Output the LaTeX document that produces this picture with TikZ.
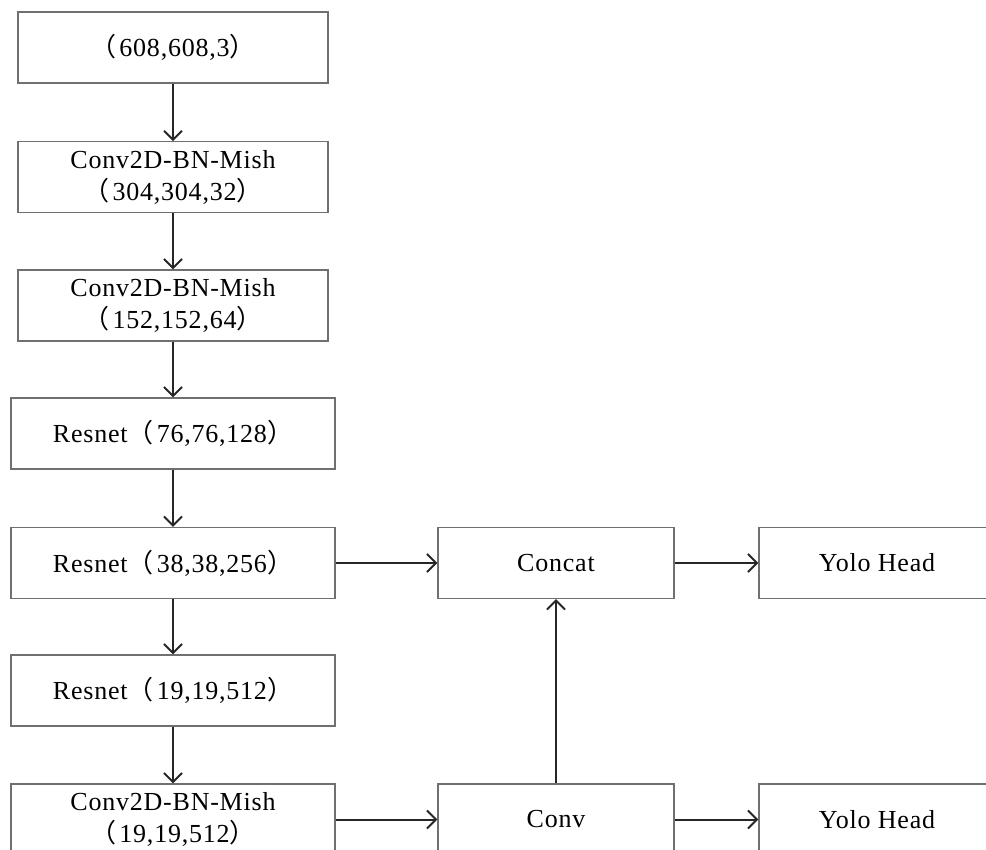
\documentclass[tikz,border=0pt]{standalone}
\usepackage{fontspec}
\setmainfont{Liberation Serif}[LetterSpace=3]
\newfontfamily\cjk{Noto Sans CJK SC}
\usetikzlibrary{arrows.meta}
\newcommand{\lp}{{\cjk （}\kern0.12em}
\newcommand{\rp}{{\cjk ）}}
\definecolor{boxline}{HTML}{707070}
\definecolor{arrowline}{HTML}{262626}
\tikzset{
  blk/.style={draw=boxline, line width=0.6pt, rectangle, inner sep=0pt,
    minimum height=35.5pt, align=center,
    font=\fontsize{13}{16}\selectfont},
  narrowblk/.style={blk, minimum width=155pt},
  wideblk/.style={blk, minimum width=162pt},
  sideblk/.style={blk, minimum width=118pt},
  flow/.style={draw=arrowline, line width=1pt,
    -{Straight Barb[length=4.5pt,width=9pt,line width=1pt]}}
}
\begin{document}
\begin{tikzpicture}[x=0.5pt, y=-0.5pt]
  \useasboundingbox (0,0) rectangle (986,850);
  \clip (0,0) rectangle (986,850);
  \fill[white] (0,0) rectangle (986,850);

  % backbone column
  \node[narrowblk] (inp)  at (173,47.5)  {\lp 608,608,3\rp};
  \node[narrowblk] (cbm1) at (173,177.3) {Conv2D-BN-Mish\\\lp 304,304,32\rp};
  \node[narrowblk] (cbm2) at (173,305.5) {Conv2D-BN-Mish\\\lp 152,152,64\rp};
  \node[wideblk]   (res1) at (173,433.5) {Resnet\lp 76,76,128\rp};
  \node[wideblk]   (res2) at (173,563)   {Resnet\lp 38,38,256\rp};
  \node[wideblk]   (res3) at (173,690.5) {Resnet\lp 19,19,512\rp};
  \node[wideblk]   (cbm3) at (173,819.5) {Conv2D-BN-Mish\\\lp 19,19,512\rp};

  % neck and heads
  \node[sideblk] (concat) at (556,563)   {Concat};
  \node[sideblk] (head1)  at (877,563)   {Yolo Head};
  \node[sideblk] (conv)   at (556,819.5) {Conv};
  \node[sideblk] (head2)  at (877,819.5) {Yolo Head};

  % connectors
  \draw[flow] (inp.south)  -- (cbm1.north);
  \draw[flow] (cbm1.south) -- (cbm2.north);
  \draw[flow] (cbm2.south) -- (res1.north);
  \draw[flow] (res1.south) -- (res2.north);
  \draw[flow] (res2.south) -- (res3.north);
  \draw[flow] (res3.south) -- (cbm3.north);
  \draw[flow] (res2.east)  -- (concat.west);
  \draw[flow] (concat.east) -- (head1.west);
  \draw[flow] (cbm3.east)  -- (conv.west);
  \draw[flow] (conv.east)  -- (head2.west);
  \draw[flow] (conv.north) -- (concat.south);
\end{tikzpicture}
\end{document}
